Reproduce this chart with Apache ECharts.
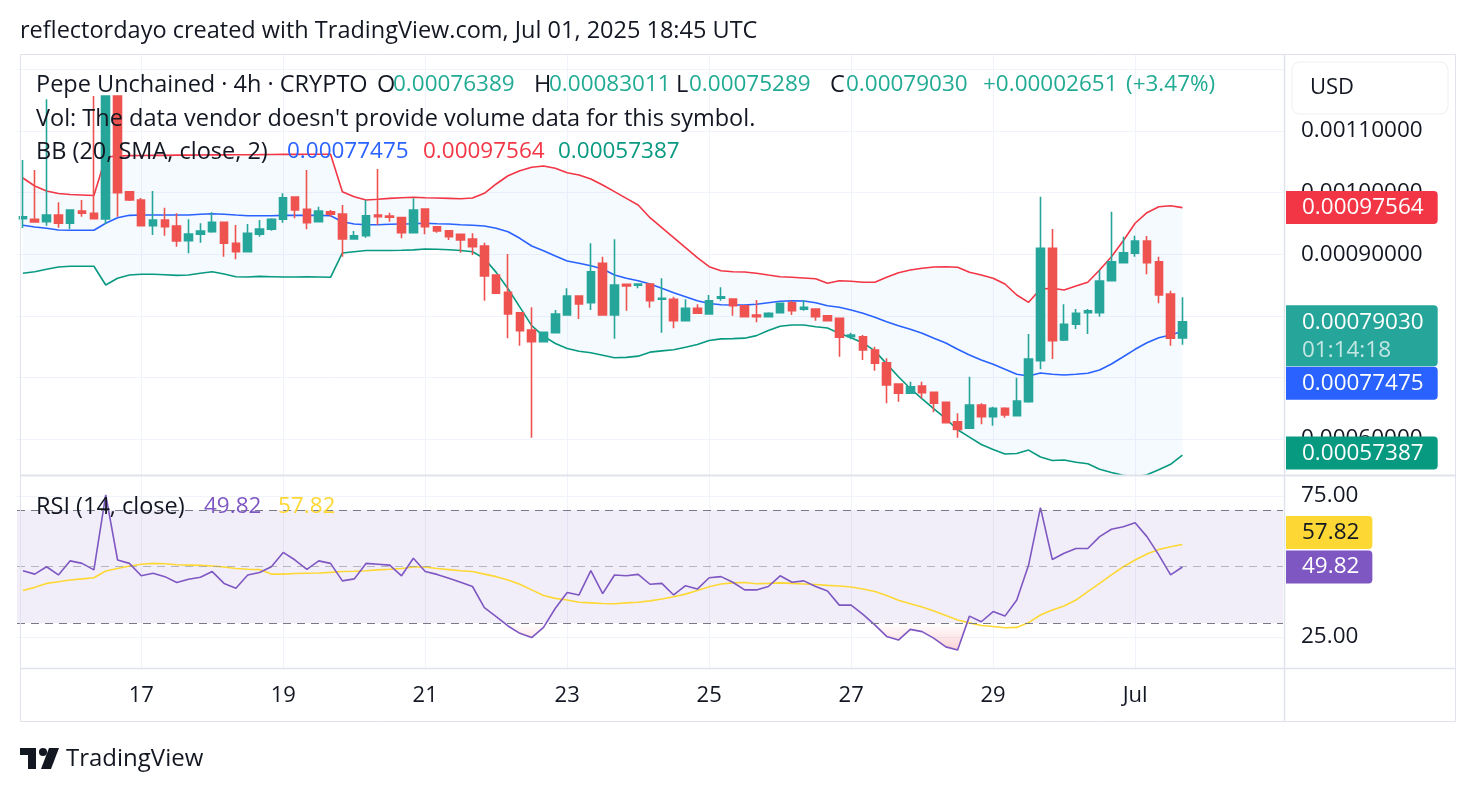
<!DOCTYPE html>
<html>
<head>
<meta charset="utf-8">
<title>Pepe Unchained 4h</title>
<script src="https://cdn.jsdelivr.net/npm/echarts@6/dist/echarts.min.js"></script>
<style>
html, body { margin: 0; padding: 0; background: #fff; }
#main { width: 1476px; height: 794px; }
</style>
</head>
<body>
<div id="main"></div>
<script>
// 4h bars, 2025-06-15 08:00 -> 2025-07-01 16:00 UTC
var barOpen = [
  0.0009576, 0.0009567, 0.0009528, 0.0009636, 0.0009502, 0.0009701, 0.0009664, 0.0009571, 0.0011568, 0.0010015,
  0.0009880, 0.0009463, 0.0009555, 0.0009458, 0.0009219, 0.0009323, 0.0009365, 0.0009518, 0.0009177, 0.0009041,
  0.0009323, 0.0009404, 0.0009567, 0.0009929, 0.0009729, 0.0009528, 0.0009690, 0.0009653, 0.0009247, 0.0009300,
  0.0009636, 0.0009620, 0.0009593, 0.0009349, 0.0009734, 0.0009446, 0.0009381, 0.0009323, 0.0009247, 0.0009133,
  0.0008662, 0.0008382, 0.0008050, 0.0007769, 0.0007580, 0.0007726, 0.0008013, 0.0008321, 0.0008213, 0.0008852,
  0.0008013, 0.0008511, 0.0008495, 0.0008516, 0.0008268, 0.0008268, 0.0007920, 0.0008122, 0.0008029, 0.0008284,
  0.0008273, 0.0008164, 0.0008013, 0.0007985, 0.0008050, 0.0008213, 0.0008106, 0.0008110, 0.0008002, 0.0007959,
  0.0007661, 0.0007661, 0.0007445, 0.0007239, 0.0006893, 0.0006742, 0.0006860, 0.0006758, 0.0006596, 0.0006281,
  0.0006174, 0.0006552, 0.0006362, 0.0006498, 0.0006378, 0.0006606, 0.0007271, 0.0009096, 0.0007607, 0.0007862,
  0.0008050, 0.0008050, 0.0008570, 0.0008862, 0.0009015, 0.0009214, 0.0008878, 0.0008354, 0.00076389
];
var barHigh = [
  0.0010529, 0.0010367, 0.0011515, 0.0009843, 0.0009722, 0.0009880, 0.0011568, 0.0011568, 0.0011568, 0.0010026,
  0.0009912, 0.0010026, 0.0009755, 0.0009664, 0.0009567, 0.0009502, 0.0009680, 0.0009523, 0.0009474, 0.0009490,
  0.0009555, 0.0009583, 0.0009989, 0.0009929, 0.0010367, 0.0009771, 0.0009718, 0.0009799, 0.0009377, 0.0009880,
  0.0010383, 0.0009674, 0.0009609, 0.0009907, 0.0009734, 0.0009458, 0.0009393, 0.0009328, 0.0009339, 0.0009187,
  0.0008662, 0.0009003, 0.0008050, 0.0008138, 0.0007732, 0.0008094, 0.0008446, 0.0008321, 0.0009177, 0.0008959,
  0.0009242, 0.0008511, 0.0008516, 0.0008516, 0.0008609, 0.0008310, 0.0008268, 0.0008187, 0.0008338, 0.0008463,
  0.0008273, 0.0008164, 0.0008256, 0.0008057, 0.0008213, 0.0008245, 0.0008256, 0.0008122, 0.0008013, 0.0007969,
  0.0007726, 0.0007688, 0.0007498, 0.0007310, 0.0006893, 0.0006930, 0.0006930, 0.0006758, 0.0006596, 0.0006417,
  0.0007011, 0.0006580, 0.0006524, 0.0006515, 0.0006995, 0.0007705, 0.0009933, 0.0009409, 0.0008187, 0.0008110,
  0.0008110, 0.0008744, 0.0009690, 0.0009284, 0.0009300, 0.0009295, 0.0008959, 0.0008407, 0.00083011
];
var barLow = [
  0.0009425, 0.0009511, 0.0009463, 0.0009430, 0.0009409, 0.0009609, 0.0009571, 0.0009490, 0.0009609, 0.0009864,
  0.0009458, 0.0009312, 0.0009300, 0.0009122, 0.0009015, 0.0009187, 0.0009349, 0.0008959, 0.0008917, 0.0009041,
  0.0009284, 0.0009381, 0.0009511, 0.0009583, 0.0009404, 0.0009523, 0.0009609, 0.0008959, 0.0009247, 0.0009268,
  0.0009474, 0.0009528, 0.0009258, 0.0009349, 0.0009323, 0.0009349, 0.0009231, 0.0009024, 0.0008987, 0.0008245,
  0.0008365, 0.0007635, 0.0007515, 0.0006021, 0.0007580, 0.0007726, 0.0008013, 0.0007948, 0.0008094, 0.0008013,
  0.0007628, 0.0008083, 0.0008446, 0.0008131, 0.0007726, 0.0007797, 0.0007920, 0.0008041, 0.0008029, 0.0008245,
  0.0008002, 0.0007985, 0.0007894, 0.0007976, 0.0008050, 0.0008013, 0.0008083, 0.0007920, 0.0007920, 0.0007336,
  0.0007619, 0.0007282, 0.0007109, 0.0006580, 0.0006606, 0.0006742, 0.0006661, 0.0006433, 0.0006265, 0.0006021,
  0.0006174, 0.0006239, 0.0006216, 0.0006346, 0.0006378, 0.0006589, 0.0007131, 0.0007299, 0.0007591, 0.0007786,
  0.0007705, 0.0007985, 0.0008570, 0.0008862, 0.0008959, 0.0008674, 0.0008203, 0.0007515, 0.00075289
];
var barClose = [
  0.0009609, 0.0009523, 0.0009636, 0.0009502, 0.0009718, 0.0009664, 0.0009576, 0.0011568, 0.0009998, 0.0009880,
  0.0009463, 0.0009555, 0.0009446, 0.0009214, 0.0009328, 0.0009377, 0.0009518, 0.0009177, 0.0009041, 0.0009339,
  0.0009409, 0.0009567, 0.0009917, 0.0009718, 0.0009511, 0.0009701, 0.0009648, 0.0009247, 0.0009300, 0.0009625,
  0.0009609, 0.0009599, 0.0009349, 0.0009718, 0.0009446, 0.0009377, 0.0009284, 0.0009231, 0.0009122, 0.0008646,
  0.0008365, 0.0008029, 0.0007758, 0.0007580, 0.0007732, 0.0008029, 0.0008321, 0.0008192, 0.0008716, 0.0008013,
  0.0008500, 0.0008484, 0.0008516, 0.0008245, 0.0008284, 0.0007920, 0.0008122, 0.0008041, 0.0008245, 0.0008310,
  0.0008164, 0.0007985, 0.0007985, 0.0008041, 0.0008203, 0.0008083, 0.0008138, 0.0007985, 0.0007920, 0.0007651,
  0.0007688, 0.0007445, 0.0007229, 0.0006877, 0.0006742, 0.0006849, 0.0006752, 0.0006580, 0.0006265, 0.0006157,
  0.0006552, 0.0006362, 0.0006498, 0.0006390, 0.0006617, 0.0007299, 0.0009096, 0.0007596, 0.0007862, 0.0008041,
  0.0008083, 0.0008565, 0.0008878, 0.0009024, 0.0009214, 0.0008862, 0.0008338, 0.00076379, 0.00079030
];

// Bollinger Bands (20, SMA, close, 2) as drawn
var bbUpper = [
  0.0010237, 0.0010107, 0.0010026, 0.0009985, 0.0009969, 0.0009961, 0.0009953, 0.0010578, 0.0010595, 0.0010600,
  0.0010602, 0.0010605, 0.0010605, 0.0010608, 0.0010608, 0.0010610, 0.0010612, 0.0010612, 0.0010614, 0.0010615,
  0.0010616, 0.0010618, 0.0010620, 0.0010620, 0.0010622, 0.0010622, 0.0010622, 0.0010015, 0.0009933, 0.0009880,
  0.0009891, 0.0009907, 0.0009917, 0.0009924, 0.0009917, 0.0009912, 0.0009907, 0.0009901, 0.0009912, 0.0009989,
  0.0010140, 0.0010274, 0.0010356, 0.0010411, 0.0010432, 0.0010394, 0.0010323, 0.0010286, 0.0010221, 0.0010123,
  0.0010015, 0.0009907, 0.0009799, 0.0009593, 0.0009430, 0.0009268, 0.0009106, 0.0008943, 0.0008797, 0.0008732,
  0.0008716, 0.0008711, 0.0008690, 0.0008662, 0.0008635, 0.0008625, 0.0008614, 0.0008602, 0.0008528, 0.0008570,
  0.0008560, 0.0008544, 0.0008544, 0.0008625, 0.0008700, 0.0008744, 0.0008771, 0.0008792, 0.0008797, 0.0008787,
  0.0008706, 0.0008662, 0.0008609, 0.0008516, 0.0008338, 0.0008219, 0.0008435, 0.0008446, 0.0008419, 0.0008484,
  0.0008544, 0.0008744, 0.0008959, 0.0009219, 0.0009502, 0.0009674, 0.0009771, 0.0009787, 0.00097564
];
var bbBasis = [
  0.0009469, 0.0009442, 0.0009420, 0.0009393, 0.0009388, 0.0009388, 0.0009388, 0.0009502, 0.0009593, 0.0009631,
  0.0009636, 0.0009636, 0.0009636, 0.0009636, 0.0009636, 0.0009648, 0.0009657, 0.0009648, 0.0009636, 0.0009625,
  0.0009625, 0.0009625, 0.0009631, 0.0009631, 0.0009631, 0.0009631, 0.0009625, 0.0009528, 0.0009490, 0.0009479,
  0.0009479, 0.0009485, 0.0009490, 0.0009495, 0.0009502, 0.0009495, 0.0009490, 0.0009479, 0.0009469, 0.0009458,
  0.0009420, 0.0009365, 0.0009258, 0.0009133, 0.0009057, 0.0008971, 0.0008890, 0.0008852, 0.0008813, 0.0008760,
  0.0008662, 0.0008609, 0.0008570, 0.0008516, 0.0008446, 0.0008375, 0.0008310, 0.0008245, 0.0008200, 0.0008180,
  0.0008175, 0.0008175, 0.0008187, 0.0008213, 0.0008235, 0.0008245, 0.0008240, 0.0008213, 0.0008164, 0.0008138,
  0.0008094, 0.0008041, 0.0007976, 0.0007904, 0.0007839, 0.0007781, 0.0007716, 0.0007635, 0.0007558, 0.0007456,
  0.0007364, 0.0007282, 0.0007213, 0.0007131, 0.0007050, 0.0007023, 0.0007071, 0.0007050, 0.0007039, 0.0007050,
  0.0007067, 0.0007120, 0.0007218, 0.0007336, 0.0007456, 0.0007563, 0.0007644, 0.0007688, 0.00077475
];
var bbLower = [
  0.0008690, 0.0008716, 0.0008755, 0.0008792, 0.0008804, 0.0008804, 0.0008804, 0.0008500, 0.0008609, 0.0008662,
  0.0008674, 0.0008674, 0.0008667, 0.0008657, 0.0008662, 0.0008690, 0.0008716, 0.0008679, 0.0008635, 0.0008630,
  0.0008640, 0.0008635, 0.0008630, 0.0008630, 0.0008635, 0.0008630, 0.0008625, 0.0009020, 0.0009040, 0.0009060,
  0.0009060, 0.0009060, 0.0009063, 0.0009070, 0.0009085, 0.0009080, 0.0009073, 0.0009060, 0.0009040, 0.0008930,
  0.0008705, 0.0008440, 0.0008140, 0.0007840, 0.0007670, 0.0007550, 0.0007470, 0.0007425, 0.0007400, 0.0007360,
  0.0007320, 0.0007325, 0.0007345, 0.0007410, 0.0007430, 0.0007450, 0.0007490, 0.0007535, 0.0007600, 0.0007625,
  0.0007630, 0.0007637, 0.0007678, 0.0007760, 0.0007830, 0.0007850, 0.0007850, 0.0007823, 0.0007803, 0.0007715,
  0.0007645, 0.0007560, 0.0007430, 0.0007220, 0.0007010, 0.0006820, 0.0006650, 0.0006490, 0.0006330, 0.0006150,
  0.0006030, 0.0005910, 0.0005828, 0.0005757, 0.0005765, 0.0005820, 0.0005707, 0.0005650, 0.0005659, 0.0005623,
  0.0005598, 0.0005510, 0.0005455, 0.0005410, 0.0005380, 0.0005420, 0.0005500, 0.0005589, 0.00057387
];

// RSI (14, close) and its moving average
var rsi = [
  48.5, 47.3, 49.9, 47.0, 52.0, 51.1, 48.8, 75.4, 52.3, 51.1,
  46.7, 47.6, 46.4, 44.3, 45.5, 46.2, 48.2, 44.0, 42.3, 47.0,
  47.9, 49.9, 55.0, 52.3, 49.0, 52.0, 51.1, 44.9, 45.6, 51.1,
  50.8, 50.5, 46.7, 52.9, 48.2, 47.2, 45.8, 44.4, 42.9, 35.4,
  32.2, 28.9, 26.3, 24.8, 28.4, 35.2, 40.8, 39.9, 48.5, 40.4,
  47.0, 46.7, 47.2, 43.7, 44.0, 39.9, 43.2, 42.0, 46.0, 46.4,
  44.4, 41.7, 41.7, 42.9, 46.7, 44.4, 44.9, 42.9, 41.3, 36.3,
  36.3, 33.0, 29.3, 25.2, 23.9, 27.7, 26.9, 24.5, 21.5, 20.4,
  32.4, 30.4, 34.0, 32.4, 38.1, 50.5, 70.9, 52.5, 54.7, 56.4,
  56.4, 60.6, 63.2, 64.1, 65.5, 60.6, 54.1, 47.0, 49.82
];
var rsiMa = [
  41.5, 42.6, 44.0, 44.6, 45.2, 45.6, 46.0, 48.4, 49.3, 50.2,
  50.8, 51.1, 51.0, 50.6, 50.5, 50.4, 50.2, 49.8, 49.3, 49.0,
  48.9, 47.3, 47.3, 47.5, 47.6, 47.7, 47.9, 48.2, 48.3, 48.5,
  48.8, 49.0, 49.3, 49.8, 49.8, 49.3, 48.9, 48.5, 48.2, 47.3,
  46.4, 45.2, 43.7, 41.7, 39.7, 38.7, 38.1, 37.3, 37.1, 36.9,
  36.8, 37.1, 37.3, 37.8, 38.5, 39.3, 40.2, 41.5, 42.8, 43.8,
  44.2, 44.3, 43.9, 44.0, 44.2, 44.0, 43.8, 43.6, 43.3, 43.1,
  42.7, 42.0, 41.1, 39.7, 38.0, 36.8, 35.6, 34.2, 32.6, 31.0,
  30.0, 29.1, 28.7, 28.3, 28.4, 30.1, 32.8, 34.6, 36.0, 38.1,
  41.1, 44.0, 47.0, 49.9, 52.3, 54.4, 56.0, 57.0, 57.82
];

var tickTimes = ['2025-06-17 00:00', '2025-06-19 00:00', '2025-06-21 00:00', '2025-06-23 00:00',
                 '2025-06-25 00:00', '2025-06-27 00:00', '2025-06-29 00:00', '2025-07-01 00:00'];
var dayTicks = ['17', '19', '21', '23', '25', '27', '29', 'Jul'];
var priceGrid = [0.0006, 0.0007, 0.0008, 0.0009, 0.0010, 0.0011, 0.0012];
var priceTicks = [0.0006, 0.0007, 0.0008, 0.0009, 0.0010, 0.0011];
var rsiTicks = [25, 75];
var rsiLevels = [70, 50, 30];

// time slots (4h) incl. empty space on the right
var categories = [];
var t0 = Date.UTC(2025, 5, 15, 8);
for (var k = 0; k < 107; k++) {
  categories.push(new Date(t0 + k * 4 * 3600 * 1000).toISOString().slice(0, 16).replace('T', ' '));
}

var FONT = '"Open Sans"';
var TXT = '#131722';
var UP = '#26a69a', DOWN = '#ef5350';
var GRID_LINE = '#f0f3fa';
var BORDER = '#e0e3eb';
var HIDDEN = 'rgba(0,0,0,0)';
var NUM_SIZE = 22.5, TEXT_SIZE = 23.5;

var candles = barOpen.map(function (o, k) { return [o, barClose[k], barLow[k], barHigh[k]]; });
var last = barClose.length - 1;
var chg = barClose[last] - barClose[last - 1];
var chgPct = chg / barClose[last - 1] * 100;

var myChart = echarts.init(document.getElementById('main'));

function isTick(idx, val) { return tickTimes.indexOf(val) >= 0; }

function catAxis(gi, labels) {
  return {
    type: 'category', gridIndex: gi, data: categories, boundaryGap: true,
    axisLine: { show: false }, axisTick: { show: false },
    axisPointer: { show: false },
    axisLabel: labels ? {
      show: true, interval: isTick, margin: 17,
      color: TXT, fontFamily: FONT, fontSize: 22,
      formatter: function (val) { var n = tickTimes.indexOf(val); return n >= 0 ? dayTicks[n] : ''; }
    } : { show: false },
    splitLine: gi === 2 ? { show: false } : {
      show: true, interval: isTick, alignWithLabel: true,
      lineStyle: { color: GRID_LINE, width: 1 }
    }
  };
}

function tag(bg, fg, text, dy, right) {
  return {
    show: true, position: 'end', distance: 3, formatter: text,
    color: fg, backgroundColor: bg, fontFamily: FONT, fontSize: NUM_SIZE, lineHeight: 22,
    padding: [6, right, 5, 16], borderRadius: [0, 4, 4, 0], offset: [0, dy]
  };
}

function lastTag(series, bg, fg, dy, decimals, right) {
  var v = series[series.length - 1];
  return {
    silent: true, symbol: 'none', animation: false, precision: 10,
    lineStyle: { color: HIDDEN, width: 1 },
    label: tag(bg, fg, v.toFixed(decimals), dy, right),
    data: [{ yAxis: v }]
  };
}

function text(x, y, s, color, size) {
  return { type: 'text', x: x, y: y, z: 100, silent: true,
    style: { text: s, fill: color, font: (size || TEXT_SIZE) + 'px ' + FONT, verticalAlign: 'middle' } };
}

var teal = '#22ab94';

myChart.setOption({
  animation: false,
  backgroundColor: '#ffffff',
  grid: [
    { left: 17, width: 1266, top: 54, height: 421, outerBoundsMode: 'none' },
    { left: 17, width: 1266, top: 475, height: 193, outerBoundsMode: 'none' },
    { left: 17, width: 1266, top: 622.9, height: 45.1, outerBoundsMode: 'none' }
  ],
  xAxis: [catAxis(0, false), catAxis(1, true), catAxis(2, false)],
  yAxis: [
    {
      type: 'value', gridIndex: 0, position: 'right', scale: true,
      min: 0.00054156, max: 0.0012250,
      axisLine: { show: false },
      axisTick: { show: false, customValues: priceGrid },
      axisLabel: { customValues: priceTicks, margin: 18, color: TXT, fontFamily: FONT, fontSize: NUM_SIZE,
        formatter: function (v) { return v.toFixed(8); } },
      splitLine: { lineStyle: { color: GRID_LINE, width: 1 } }
    },
    {
      type: 'value', gridIndex: 1, position: 'right', min: 14.0, max: 82.45,
      axisLine: { show: false },
      axisTick: { show: false, customValues: rsiTicks },
      axisLabel: { customValues: rsiTicks, margin: 18, color: TXT, fontFamily: FONT, fontSize: NUM_SIZE,
        formatter: function (v) { return v.toFixed(2); } },
      splitLine: { lineStyle: { color: GRID_LINE, width: 1 } }
    },
    { type: 'value', gridIndex: 2, min: 14.0, max: 30, show: false, splitLine: { show: false } }
  ],
  series: [
    {
      // band fill between upper and lower BB
      type: 'custom', xAxisIndex: 0, yAxisIndex: 0, z: 1, silent: true, clip: true,
      data: [[0, bbBasis[0]]],
      renderItem: function (params, api) {
        var pts = [];
        for (var a = 0; a < bbUpper.length; a++) pts.push(api.coord([a, bbUpper[a]]));
        for (var b = bbLower.length - 1; b >= 0; b--) pts.push(api.coord([b, bbLower[b]]));
        return { type: 'polygon', shape: { points: pts }, style: { fill: 'rgba(33,150,243,0.05)' } };
      }
    },
    {
      name: 'Upper', type: 'line', xAxisIndex: 0, yAxisIndex: 0, data: bbUpper, z: 2,
      symbol: 'none', lineStyle: { color: '#f23645', width: 1.6 },
      markLine: lastTag(bbUpper, '#f23645', '#fff', 0, 8, 14)
    },
    {
      name: 'Basis', type: 'line', xAxisIndex: 0, yAxisIndex: 0, data: bbBasis, z: 2,
      symbol: 'none', lineStyle: { color: '#2962ff', width: 1.6 },
      markLine: lastTag(bbBasis, '#2962ff', '#fff', 52, 8, 14)
    },
    {
      name: 'Lower', type: 'line', xAxisIndex: 0, yAxisIndex: 0, data: bbLower, z: 2,
      symbol: 'none', lineStyle: { color: '#089981', width: 1.6 },
      markLine: lastTag(bbLower, '#089981', '#fff', -2, 8, 14)
    },
    {
      name: 'Pepe Unchained', type: 'candlestick', xAxisIndex: 0, yAxisIndex: 0, z: 3,
      data: candles, barWidth: 8,
      itemStyle: { color: UP, color0: DOWN, borderColor: UP, borderColor0: DOWN, borderWidth: 1.6 },
      markLine: {
        silent: true, symbol: 'none', animation: false, precision: 10,
        lineStyle: { color: HIDDEN, width: 1 },
        label: {
          show: true, position: 'end', distance: 3, offset: [0, 14],
          backgroundColor: UP, padding: [3, 14, 2, 16], borderRadius: [0, 4, 4, 0],
          formatter: '{p|' + barClose[last].toFixed(8) + '}\n{t|01:14:18}',
          rich: {
            p: { color: '#fff', fontFamily: FONT, fontSize: NUM_SIZE, lineHeight: 28 },
            t: { color: 'rgba(255,255,255,0.72)', fontFamily: FONT, fontSize: NUM_SIZE, lineHeight: 28 }
          }
        },
        data: [{ yAxis: barClose[last] }]
      }
    },
    {
      name: 'RSI', type: 'line', xAxisIndex: 1, yAxisIndex: 1, data: rsi, z: 3,
      symbol: 'none', lineStyle: { color: '#7e57c2', width: 1.6 },
      markArea: {
        silent: true,
        itemStyle: { color: 'rgba(126,87,194,0.1)' },
        data: [[{ yAxis: rsiLevels[0] }, { yAxis: rsiLevels[2] }]]
      },
      markLine: {
        silent: true, symbol: 'none', animation: false, precision: 4,
        data: [
          { yAxis: rsiLevels[0], label: { show: false }, lineStyle: { color: '#787b86', width: 1.2, type: [8, 6] } },
          { yAxis: rsiLevels[1], label: { show: false }, lineStyle: { color: 'rgba(120,123,134,0.5)', width: 1.2, type: [8, 6] } },
          { yAxis: rsiLevels[2], label: { show: false }, lineStyle: { color: '#787b86', width: 1.2, type: [8, 6] } },
          { yAxis: rsi[rsi.length - 1], lineStyle: { color: HIDDEN, width: 1 },
            label: tag('#7e57c2', '#fff', rsi[rsi.length - 1].toFixed(2), 0, 13) }
        ]
      }
    },
    {
      name: 'RSI MA', type: 'line', xAxisIndex: 1, yAxisIndex: 1, data: rsiMa, z: 2,
      symbol: 'none', lineStyle: { color: '#fdd835', width: 1.6 },
      markLine: lastTag(rsiMa, '#fdd835', TXT, -12, 2, 13)
    },
    {
      // oversold gradient, clipped to the area below 30
      name: 'Oversold', type: 'line', xAxisIndex: 2, yAxisIndex: 2, data: rsi, z: 1,
      symbol: 'none', silent: true, clip: true, lineStyle: { width: 0 },
      areaStyle: {
        origin: 'end',
        color: new echarts.graphic.LinearGradient(0, 623, 0, 708, [
          { offset: 0, color: 'rgba(242,54,69,0)' },
          { offset: 1, color: 'rgba(242,54,69,1)' }
        ], true)
      }
    }
  ],
  graphic: [
    // frame and pane separators
    { type: 'rect', z: 90, silent: true, shape: { x: 20.5, y: 54.5, width: 1435, height: 667 },
      style: { fill: 'none', stroke: BORDER, lineWidth: 1 } },
    { type: 'line', z: 90, silent: true, shape: { x1: 1284.5, y1: 54, x2: 1284.5, y2: 722 }, style: { stroke: BORDER, lineWidth: 1.5 } },
    { type: 'line', z: 90, silent: true, shape: { x1: 20, y1: 475.5, x2: 1456, y2: 475.5 }, style: { stroke: BORDER, lineWidth: 2 } },
    { type: 'line', z: 90, silent: true, shape: { x1: 20, y1: 668.5, x2: 1456, y2: 668.5 }, style: { stroke: BORDER, lineWidth: 1.5 } },
    // currency box
    { type: 'rect', z: 100, silent: true, shape: { x: 1292, y: 62, width: 156, height: 52, r: 8 },
      style: { fill: '#fff', stroke: '#edeff3', lineWidth: 1 } },
    text(1310, 88, 'USD', TXT, 22),
    // header
    text(20, 31, 'reflectordayo created with TradingView.com, Jul 01, 2025 18:45 UTC', TXT),
    text(36, 85, 'Pepe Unchained \u00b7 4h \u00b7 CRYPTO', TXT),
    text(377, 85, 'O', TXT), text(393, 85, barOpen[last].toFixed(8), teal, NUM_SIZE),
    text(534, 85, 'H', TXT), text(549, 85, barHigh[last].toFixed(8), teal, NUM_SIZE),
    text(676, 85, 'L', TXT), text(689, 85, barLow[last].toFixed(8), teal, NUM_SIZE),
    text(830, 85, 'C', TXT), text(846, 85, barClose[last].toFixed(8), teal, NUM_SIZE),
    text(983, 85, '+' + chg.toFixed(8), teal, NUM_SIZE),
    text(1126, 85, '(+' + chgPct.toFixed(2) + '%)', teal, NUM_SIZE),
    text(36, 119, "Vol: The data vendor doesn't provide volume data for this symbol.", TXT),
    text(36, 152, 'BB (20, SMA, close, 2)', TXT),
    text(287, 152, bbBasis[bbBasis.length - 1].toFixed(8), '#2962ff', NUM_SIZE),
    text(423, 152, bbUpper[bbUpper.length - 1].toFixed(8), '#f23645', NUM_SIZE),
    text(558, 152, bbLower[bbLower.length - 1].toFixed(8), '#089981', NUM_SIZE),
    text(36, 507, 'RSI (14, close)', TXT),
    text(204, 507, rsi[rsi.length - 1].toFixed(2), '#7e57c2', NUM_SIZE),
    text(278, 507, rsiMa[rsiMa.length - 1].toFixed(2), '#fdd835', NUM_SIZE),
    // logo
    { type: 'rect', z: 100, silent: true, shape: { x: 20, y: 748, width: 16, height: 7 }, style: { fill: TXT } },
    { type: 'rect', z: 100, silent: true, shape: { x: 28, y: 748, width: 8, height: 21 }, style: { fill: TXT } },
    { type: 'circle', z: 100, silent: true, shape: { cx: 43, cy: 752, r: 4 }, style: { fill: TXT } },
    { type: 'polygon', z: 100, silent: true, shape: { points: [[49, 748], [59, 748], [51, 769], [41, 769]] }, style: { fill: TXT } },
    { type: 'text', x: 66, y: 759, z: 100, silent: true,
      style: { text: 'TradingView', fill: TXT, font: '500 24px ' + FONT, verticalAlign: 'middle' } }
  ]
});
</script>
</body>
</html>
